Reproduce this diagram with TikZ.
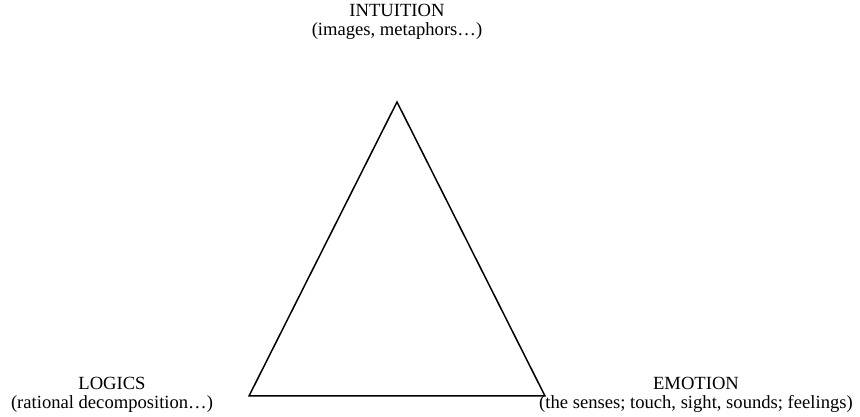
\documentclass[tikz,border=0pt]{standalone}
\usepackage{fontspec}
\setmainfont{Liberation Serif}
\begin{document}
\begin{tikzpicture}[x=1pt,y=1pt,
  lbl/.style={align=center,font=\fontsize{18.6}{19.5}\selectfont,inner sep=0pt}]
\useasboundingbox[fill=white] (0,0) rectangle (860,417);
\coordinate (A) at (397,315);
\coordinate (B) at (249,21);
\coordinate (C) at (545,21);
\draw[line width=1.5pt,line join=miter] (A) -- (B) -- (C) -- cycle;
\node[lbl] (intu) at (397,395) {INTUITION\\(images, metaphors…)};
\node[lbl] (logi) at (112,22) {LOGICS\\(rational decomposition…)};
\node[lbl] (emot) at (696,22) {EMOTION\\(the senses; touch, sight, sounds; feelings)};
\end{tikzpicture}
\end{document}
